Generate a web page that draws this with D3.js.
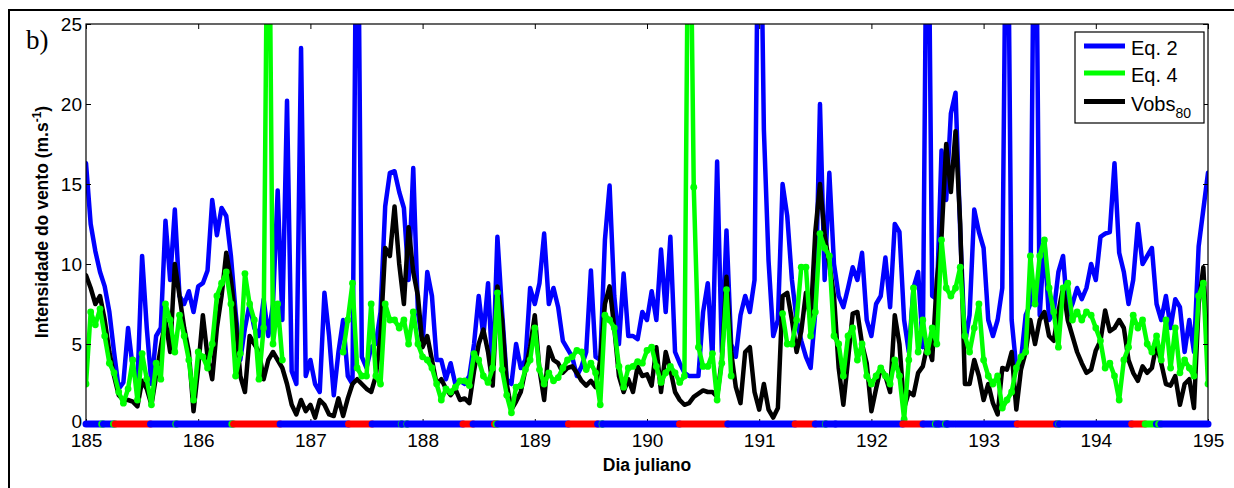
<!DOCTYPE html>
<html><head><meta charset="utf-8">
<script src="https://cdn.jsdelivr.net/npm/d3@7"></script>
<style>body{margin:0;background:#fff}svg{display:block}</style>
</head><body><svg id="c" width="1234" height="488"></svg>
<script>
// ---- data (hourly values, day 185.0 .. 195.0) ----
const startDay = 185;
const pointsPerDay = 24;
const eq2 = [
 16.3,12.5,10.8,9.5,8.6,7.0,4.5,2.2,2.6,6.0,3.5,2.5,10.5,6.0,2.5,5.5,6.0,12.7,9.0,13.4,8.0,7.5,8.3,7.0,
 8.6,8.8,9.6,14.0,11.8,13.5,13.0,10.5,7.0,4.0,6.0,7.5,6.0,5.5,7.8,5.5,7.5,14.6,6.5,20.2,3.3,2.5,23.5,3.0,
 4.0,2.5,2.0,8.2,5.5,1.8,4.5,6.5,3.0,2.5,40,4.2,3.5,4.8,5.0,7.0,13.6,15.7,15.8,14.5,13.5,9.0,16.0,7.0,
 5.0,9.5,8.0,4.0,4.0,2.8,3.8,2.5,2.7,2.5,3.0,5.0,8.0,5.5,8.8,3.0,11.7,7.0,2.8,2.5,5.0,3.5,4.0,8.5,
 7.5,8.8,11.9,7.5,8.5,7.3,5.2,4.7,4.2,3.0,3.6,4.5,9.6,4.2,4.0,11.5,14.9,8.0,5.0,9.4,5.5,5.5,5.3,7.0,
 6.5,8.3,6.5,10.9,7.0,11.7,4.5,3.8,3.2,3.0,3.0,3.0,7.0,8.8,4.0,16.4,4.5,12.1,5.0,4.2,6.8,8.0,7.0,9.0,
 40,18.4,10.2,5.5,6.5,15.0,13.0,9.0,6.5,5.2,4.2,3.5,7.0,20.0,9.0,15.7,10.0,8.0,7.3,8.5,9.8,9.0,10.7,6.5,
 5.5,7.5,8.0,10.4,7.3,12.5,12.0,6.5,4.5,8.5,9.5,4.8,40,8.0,7.8,17.1,14.0,19.4,20.7,12.0,5.0,6.8,13.4,12.0,
 11.0,6.5,5.5,6.5,8.5,40,6.5,3.5,4.0,6.8,7.5,40,6.8,11.5,6.5,7.0,9.5,10.5,6.8,7.5,8.5,7.8,8.5,10.0,
 9.0,11.7,11.9,12.0,16.3,10.7,9.5,7.5,9.0,12.5,10.0,10.5,11.0,7.5,6.5,8.0,6.0,7.8,7.3,4.5,6.5,4.5,11.1,13.4,
 15.7
];
const eq4 = [
 2.5,7.0,6.2,7.2,5.5,3.8,3.2,2.0,1.3,2.2,4.0,1.5,4.4,2.8,1.2,3.8,2.8,7.5,6.5,4.5,6.8,5.5,4.0,1.5,
 4.5,4.2,3.5,5.0,8.0,8.8,9.5,7.5,3.0,4.4,9.4,7.5,6.5,2.8,6.0,40,5.0,7.5,4.0,null,null,null,null,null,
 null,null,null,null,null,null,null,4.5,6.5,8.8,3.5,3.0,3.0,7.5,3.0,2.5,7.5,6.5,6.5,6.0,6.5,5.0,7.0,5.0,
 4.2,4.0,3.5,2.5,1.5,2.2,2.0,2.3,2.7,2.7,2.4,4.4,4.0,3.0,2.6,3.5,8.2,3.4,1.8,0.7,2.3,2.4,3.4,4.0,
 6.0,3.4,2.5,3.2,2.7,2.9,3.5,4.0,4.2,4.6,4.5,3.4,3.8,3.2,1.2,6.8,6.5,6.0,3.6,2.3,3.5,3.6,3.9,3.8,
 4.6,4.8,3.6,2.6,3.2,3.6,3.2,2.6,3.0,40,14.8,4.8,3.6,3.6,4.4,1.5,3.8,8.4,3.0,null,null,null,null,null,
 null,null,null,null,null,6.9,5.0,5.0,6.5,9.8,9.8,5.5,7.0,11.9,11.0,10.5,5.5,5.0,3.0,5.5,6.0,4.0,5.0,3.0,
 2.5,3.0,3.5,3.0,2.5,4.0,3.0,0.3,4.0,8.5,4.5,6.5,4.5,6.0,5.0,11.5,8.5,8.0,8.5,9.8,5.5,4.5,6.0,7.5,
 4.0,3.0,2.5,3.0,1.0,1.5,2.0,3.5,4.2,4.5,10.5,7.5,10.5,11.5,8.5,7.0,4.8,8.5,8.8,6.5,7.0,6.5,7.0,6.8,
 6.0,5.2,3.5,3.8,3.0,1.5,4.0,4.8,6.8,6.0,6.5,5.0,4.5,5.5,4.0,6.5,3.5,6.0,3.2,4.0,3.5,3.0,8.0,8.8,
 2.5
];
const vobs80 = [
 9.3,8.5,7.5,8.0,6.5,4.5,3.0,1.8,1.5,1.5,1.4,1.1,2.7,2.2,1.2,3.0,4.8,6.5,4.5,10.0,8.0,6.0,4.5,0.8,
 3.5,6.8,4.2,2.8,6.0,8.0,10.7,9.0,6.5,3.0,2.0,5.5,5.0,4.5,2.8,4.0,4.5,4.0,3.5,2.5,1.2,0.6,1.5,0.8,
 1.2,0.4,1.5,1.2,0.6,0.5,1.6,0.5,1.6,2.5,2.8,2.5,2.2,2.0,3.0,5.5,11.0,10.5,13.6,10.0,7.5,12.3,9.5,8.0,
 4.8,5.5,4.0,2.5,2.8,2.2,1.8,2.2,1.5,1.6,1.3,3.3,5.0,5.9,4.5,2.4,8.6,6.5,2.5,0.9,1.4,2.0,3.4,4.8,
 6.8,3.4,1.5,4.8,4.0,3.8,3.2,3.5,3.6,3.2,2.7,2.4,2.7,2.3,4.0,7.5,8.6,6.0,3.0,2.0,2.8,2.0,3.6,3.0,
 3.1,2.4,4.8,2.0,4.5,3.4,2.0,1.5,1.2,1.3,1.7,1.9,2.1,2.0,2.0,1.7,4.0,9.2,4.5,2.3,1.3,4.5,4.8,2.0,
 0.9,2.5,0.9,0.4,1.0,8.0,8.2,6.5,4.5,5.8,8.2,6.5,12.0,15.0,11.8,10.0,8.0,3.5,1.2,4.0,6.9,7.0,5.0,3.8,
 0.8,2.2,3.5,3.0,2.0,6.8,5.0,1.0,2.0,1.8,3.2,3.6,5.0,4.0,9.0,11.7,17.5,14.5,18.3,12.5,2.5,2.5,4.0,3.0,
 1.5,2.5,1.3,0.6,3.5,3.4,4.5,0.9,3.4,4.5,6.5,5.0,6.5,7.0,5.5,5.2,7.0,8.5,6.5,5.5,4.5,3.8,3.2,3.4,
 4.6,5.2,7.1,5.8,6.0,6.5,6.0,4.0,3.2,2.7,3.6,3.2,3.5,5.0,3.8,2.5,2.4,3.0,1.2,2.5,2.8,1.0,7.5,9.8,
 4.0
];
// stability class strip at V = 0: [start day, end day, class]
const stabStart = [185.00,185.14,185.155,185.245,185.26,185.575,185.80,185.81,186.30,186.315,186.73,187.34,187.55,187.81,187.815,187.86,187.865,188.36,188.45,188.64,188.655,188.67,189.30,189.56,189.60,189.605,190.29,190.72,191.32,191.50,191.59,191.595,191.68,192.28,192.46,192.57,192.58,192.60,192.66,192.67,192.68,192.76,193.30,193.65,193.67,193.675,194.32,194.44,194.54,194.56,194.58];
const stabEnd   = [185.14,185.155,185.245,185.26,185.575,185.80,185.81,186.30,186.315,186.73,187.34,187.55,187.81,187.815,187.86,187.865,188.36,188.45,188.64,188.655,188.67,189.30,189.56,189.60,189.605,190.29,190.72,191.32,191.50,191.59,191.595,191.68,192.28,192.46,192.57,192.58,192.60,192.66,192.67,192.68,192.74,193.30,193.65,193.67,193.675,194.32,194.44,194.54,194.56,194.58,195.00];
const stabClass = ["E","N","E","N","I","E","N","E","N","I","E","I","E","N","E","N","E","I","E","I","N","E","I","E","N","E","I","E","I","E","N","E","E","I","E","N","E","E","N","E","E","E","I","E","N","E","I","N","E","N","E"];
const xTicks = [185,186,187,188,189,190,191,192,193,194,195];
const yTicks = [0,5,10,15,20,25];
const seriesNames = ["Eq. 2","Eq. 4","Vobs"];
const seriesColors = ["#0000ff","#00ff00","#000000"];
const classColors = {E:"#0000ff", I:"#ff0000", N:"#00ff00"};

// ---- layout ----
const svg = d3.select("#c");
const L = 86, R = 1208, T = 24, B = 424;
const x = d3.scaleLinear().domain([185,195]).range([L,R]);
const y = d3.scaleLinear().domain([0,25]).range([B,T]);
const dayOf = i => startDay + i / pointsPerDay;
const font = "'Liberation Sans', Arial, sans-serif";

// outer frame
svg.append("path").attr("d","M9,488 L9,10 L1234,10").attr("fill","none").attr("stroke","#000").attr("stroke-width",2);
svg.append("text").attr("x",26).attr("y",49).attr("font-family","'Liberation Serif','Times New Roman',serif")
  .attr("font-size",27).text("b)");

svg.append("clipPath").attr("id","clip").append("rect").attr("x",L).attr("y",T).attr("width",R-L).attr("height",B-T);
const plot = svg.append("g").attr("clip-path","url(#clip)");

const line = d3.line().defined(d => d != null).x((d,i) => x(dayOf(i))).y(d => y(d)).curve(d3.curveLinear);
function drawLine(arr, color){
  plot.append("path").datum(arr).attr("d", line).attr("fill","none").attr("stroke",color)
    .attr("stroke-width",4.5).attr("stroke-linejoin","round").attr("stroke-linecap","round");
}
drawLine(eq2, seriesColors[0]);
drawLine(vobs80, seriesColors[2]);
drawLine(eq4, seriesColors[1]);
plot.selectAll("circle.g").data(eq4.map((v,i)=>({v,i})).filter(d=>d.v!=null)).join("circle")
  .attr("cx",d=>x(dayOf(d.i))).attr("cy",d=>y(d.v)).attr("r",3.4).attr("fill","#00ff00");

// axes box + ticks
const ax = svg.append("g").attr("font-family",font);
ax.append("g").attr("transform",`translate(0,${B})`)
  .call(d3.axisBottom(x).tickValues(xTicks).tickFormat(d3.format("d")).tickSize(-5).tickPadding(10));
ax.append("g").attr("transform",`translate(0,${T})`)
  .call(d3.axisTop(x).tickValues(xTicks).tickFormat("").tickSize(-5));
ax.append("g").attr("transform",`translate(${L},0)`)
  .call(d3.axisLeft(y).tickValues(yTicks).tickSize(-5).tickPadding(4));
ax.append("g").attr("transform",`translate(${R},0)`)
  .call(d3.axisRight(y).tickValues(yTicks).tickFormat("").tickSize(-5));
ax.selectAll(".domain").remove();
ax.selectAll(".tick line").attr("stroke","#000").attr("stroke-width",1);
ax.selectAll(".tick text").attr("font-size",19).attr("fill","#000").attr("font-family",font);
// lift the "0" label a touch so it does not collide with "185"
ax.selectAll(".tick text").filter(d => d === 0 && yTicks.includes(d)).attr("dy","0.2em");
svg.append("rect").attr("x",L).attr("y",T).attr("width",R-L).attr("height",B-T)
  .attr("fill","none").attr("stroke","#000").attr("stroke-width",1.2);

// stability strip on V = 0
const strip = svg.append("g");
stabStart.forEach((s,k) => {
  strip.append("line").attr("x1",x(s)).attr("x2",x(stabEnd[k])).attr("y1",y(0)).attr("y2",y(0))
    .attr("stroke",classColors[stabClass[k]]).attr("stroke-width",7).attr("stroke-linecap","round");
});

// axis titles
svg.append("text").attr("x",(L+R)/2).attr("y",471).attr("text-anchor","middle")
  .attr("font-family",font).attr("font-weight","bold").attr("font-size",17.5).text("Dia juliano");
const yl = svg.append("text").attr("transform","translate(48,222) rotate(-90)").attr("text-anchor","middle")
  .attr("font-family",font).attr("font-weight","bold").attr("font-size",17.5);
yl.append("tspan").text("Intensidade do vento (m.s");
yl.append("tspan").attr("dy",-7).attr("font-size",12).text("-1");
yl.append("tspan").attr("dy",7).text(")");

// legend
const lg = svg.append("g").attr("font-family",font);
lg.append("rect").attr("x",1075).attr("y",32).attr("width",129).attr("height",91)
  .attr("fill","#fff").attr("stroke","#000").attr("stroke-width",1.2);
const lgY = [46,73,101.5];
[0,1,2].forEach((s,k)=>{
  lg.append("line").attr("x1",1084).attr("x2",1125).attr("y1",lgY[k]).attr("y2",lgY[k])
    .attr("stroke",seriesColors[s]).attr("stroke-width",5);
  const t = lg.append("text").attr("x",1131).attr("y",lgY[k]+9).attr("font-size",20).text(seriesNames[s]);
  if (s===2) t.append("tspan").attr("dy",7).attr("font-size",14).text("80");
});
</script></body></html>
